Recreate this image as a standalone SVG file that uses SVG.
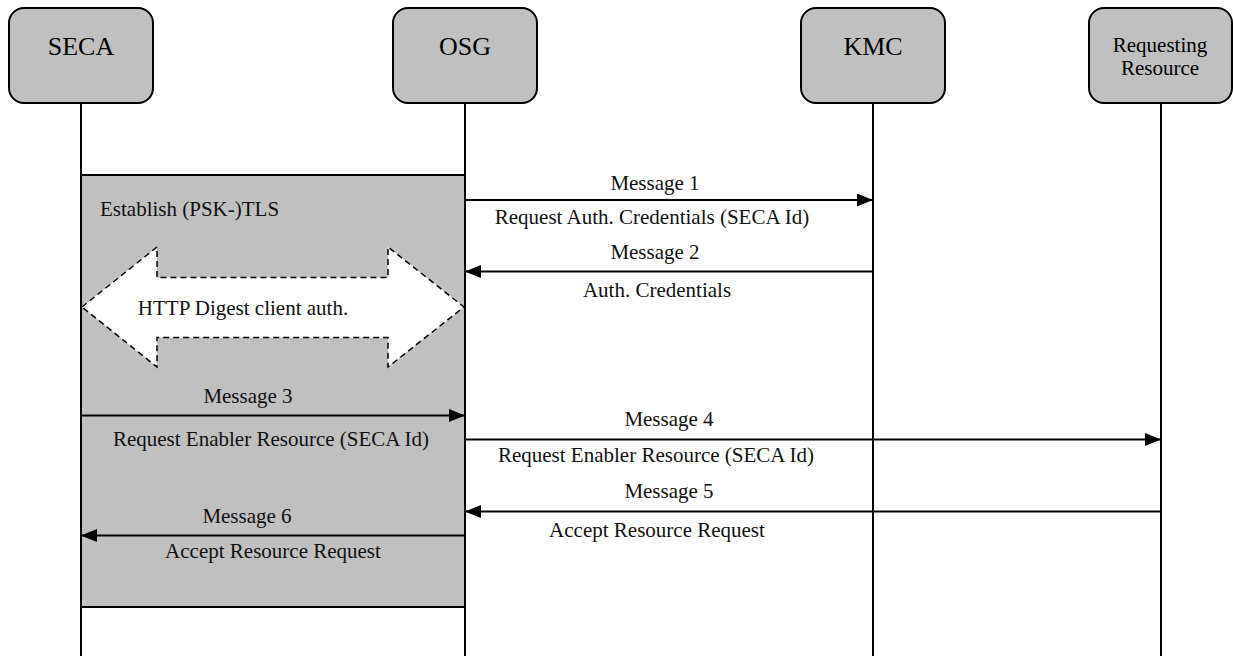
<svg xmlns="http://www.w3.org/2000/svg" width="1233" height="656" viewBox="0 0 1233 656">
<defs>
<style>
.node rect{fill:#c0c0c0;stroke:#000;stroke-width:2}
.ntext{font-family:"Liberation Serif","Times New Roman",serif;font-size:26px;fill:#000;text-anchor:middle}
.ntext2{font-family:"Liberation Serif","Times New Roman",serif;font-size:21px;fill:#000;text-anchor:middle}
.life{stroke:#000;stroke-width:2;fill:none}
.msg{stroke:#000;stroke-width:2;fill:none}
.lbl{font-family:"Liberation Serif","Times New Roman",serif;font-size:21px;fill:#111;text-anchor:middle}
</style>
<marker id="ah" viewBox="0 0 16 13" refX="16" refY="6.5" markerWidth="16" markerHeight="13" markerUnits="userSpaceOnUse" orient="auto">
<path d="M0,0 L16,6.5 L0,13 Z" fill="#000"/>
</marker>
</defs>
<rect width="1233" height="656" fill="#fff"/>
<g id="lifelines">
<line class="life" x1="81" y1="103" x2="81" y2="656"/>
<line class="life" x1="465" y1="103" x2="465" y2="656"/>
<line class="life" x1="873" y1="103" x2="873" y2="656"/>
<line class="life" x1="1161" y1="103" x2="1161" y2="656"/>
</g>
<g id="tls-block">
<rect x="81" y="175" width="384" height="432" fill="#c0c0c0" stroke="#000" stroke-width="2"/>
<text class="lbl" x="100" y="216" text-anchor="start" style="text-anchor:start">Establish (PSK-)TLS</text>
</g>
<g id="http-digest">
<polygon points="82,307 157,247 157,277.5 388,277.5 388,247 464,307 388,367 388,337.5 157,337.5 157,367" fill="#fff" stroke="#000" stroke-width="1.5" stroke-dasharray="6,4"/>
<text class="lbl" x="243" y="315">HTTP Digest client auth.</text>
</g>
<g id="SECA" class="node">
<rect x="9" y="8" width="144" height="95" rx="15" ry="15"/>
<text class="ntext" x="81" y="55">SECA</text>
</g>
<g id="OSG" class="node">
<rect x="393" y="8" width="144" height="95" rx="15" ry="15"/>
<text class="ntext" x="465" y="55">OSG</text>
</g>
<g id="KMC" class="node">
<rect x="801" y="8" width="144" height="95" rx="15" ry="15"/>
<text class="ntext" x="873" y="55">KMC</text>
</g>
<g id="RequestingResource" class="node">
<rect x="1089" y="8" width="143" height="95" rx="15" ry="15"/>
<text class="ntext2" x="1160" y="52">Requesting</text>
<text class="ntext2" x="1160" y="75">Resource</text>
</g>
<g id="connectors">
<line class="msg" x1="465" y1="200" x2="873" y2="200" marker-end="url(#ah)"/>
<line class="msg" x1="873" y1="271.5" x2="465" y2="271.5" marker-end="url(#ah)"/>
<line class="msg" x1="81" y1="415.5" x2="465" y2="415.5" marker-end="url(#ah)"/>
<line class="msg" x1="465" y1="439.5" x2="1161" y2="439.5" marker-end="url(#ah)"/>
<line class="msg" x1="1161" y1="511.5" x2="465" y2="511.5" marker-end="url(#ah)"/>
<line class="msg" x1="465" y1="535.5" x2="81" y2="535.5" marker-end="url(#ah)"/>
</g>
<g id="labels">
<text class="lbl" x="655" y="190">Message 1</text>
<text class="lbl" x="652" y="224">Request Auth. Credentials (SECA Id)</text>
<text class="lbl" x="655" y="259">Message 2</text>
<text class="lbl" x="657" y="297">Auth. Credentials</text>
<text class="lbl" x="248" y="403">Message 3</text>
<text class="lbl" x="271" y="446">Request Enabler Resource (SECA Id)</text>
<text class="lbl" x="669" y="426">Message 4</text>
<text class="lbl" x="656" y="462">Request Enabler Resource (SECA Id)</text>
<text class="lbl" x="669" y="498">Message 5</text>
<text class="lbl" x="657" y="537">Accept Resource Request</text>
<text class="lbl" x="247" y="523">Message 6</text>
<text class="lbl" x="273" y="558">Accept Resource Request</text>
</g>
</svg>
